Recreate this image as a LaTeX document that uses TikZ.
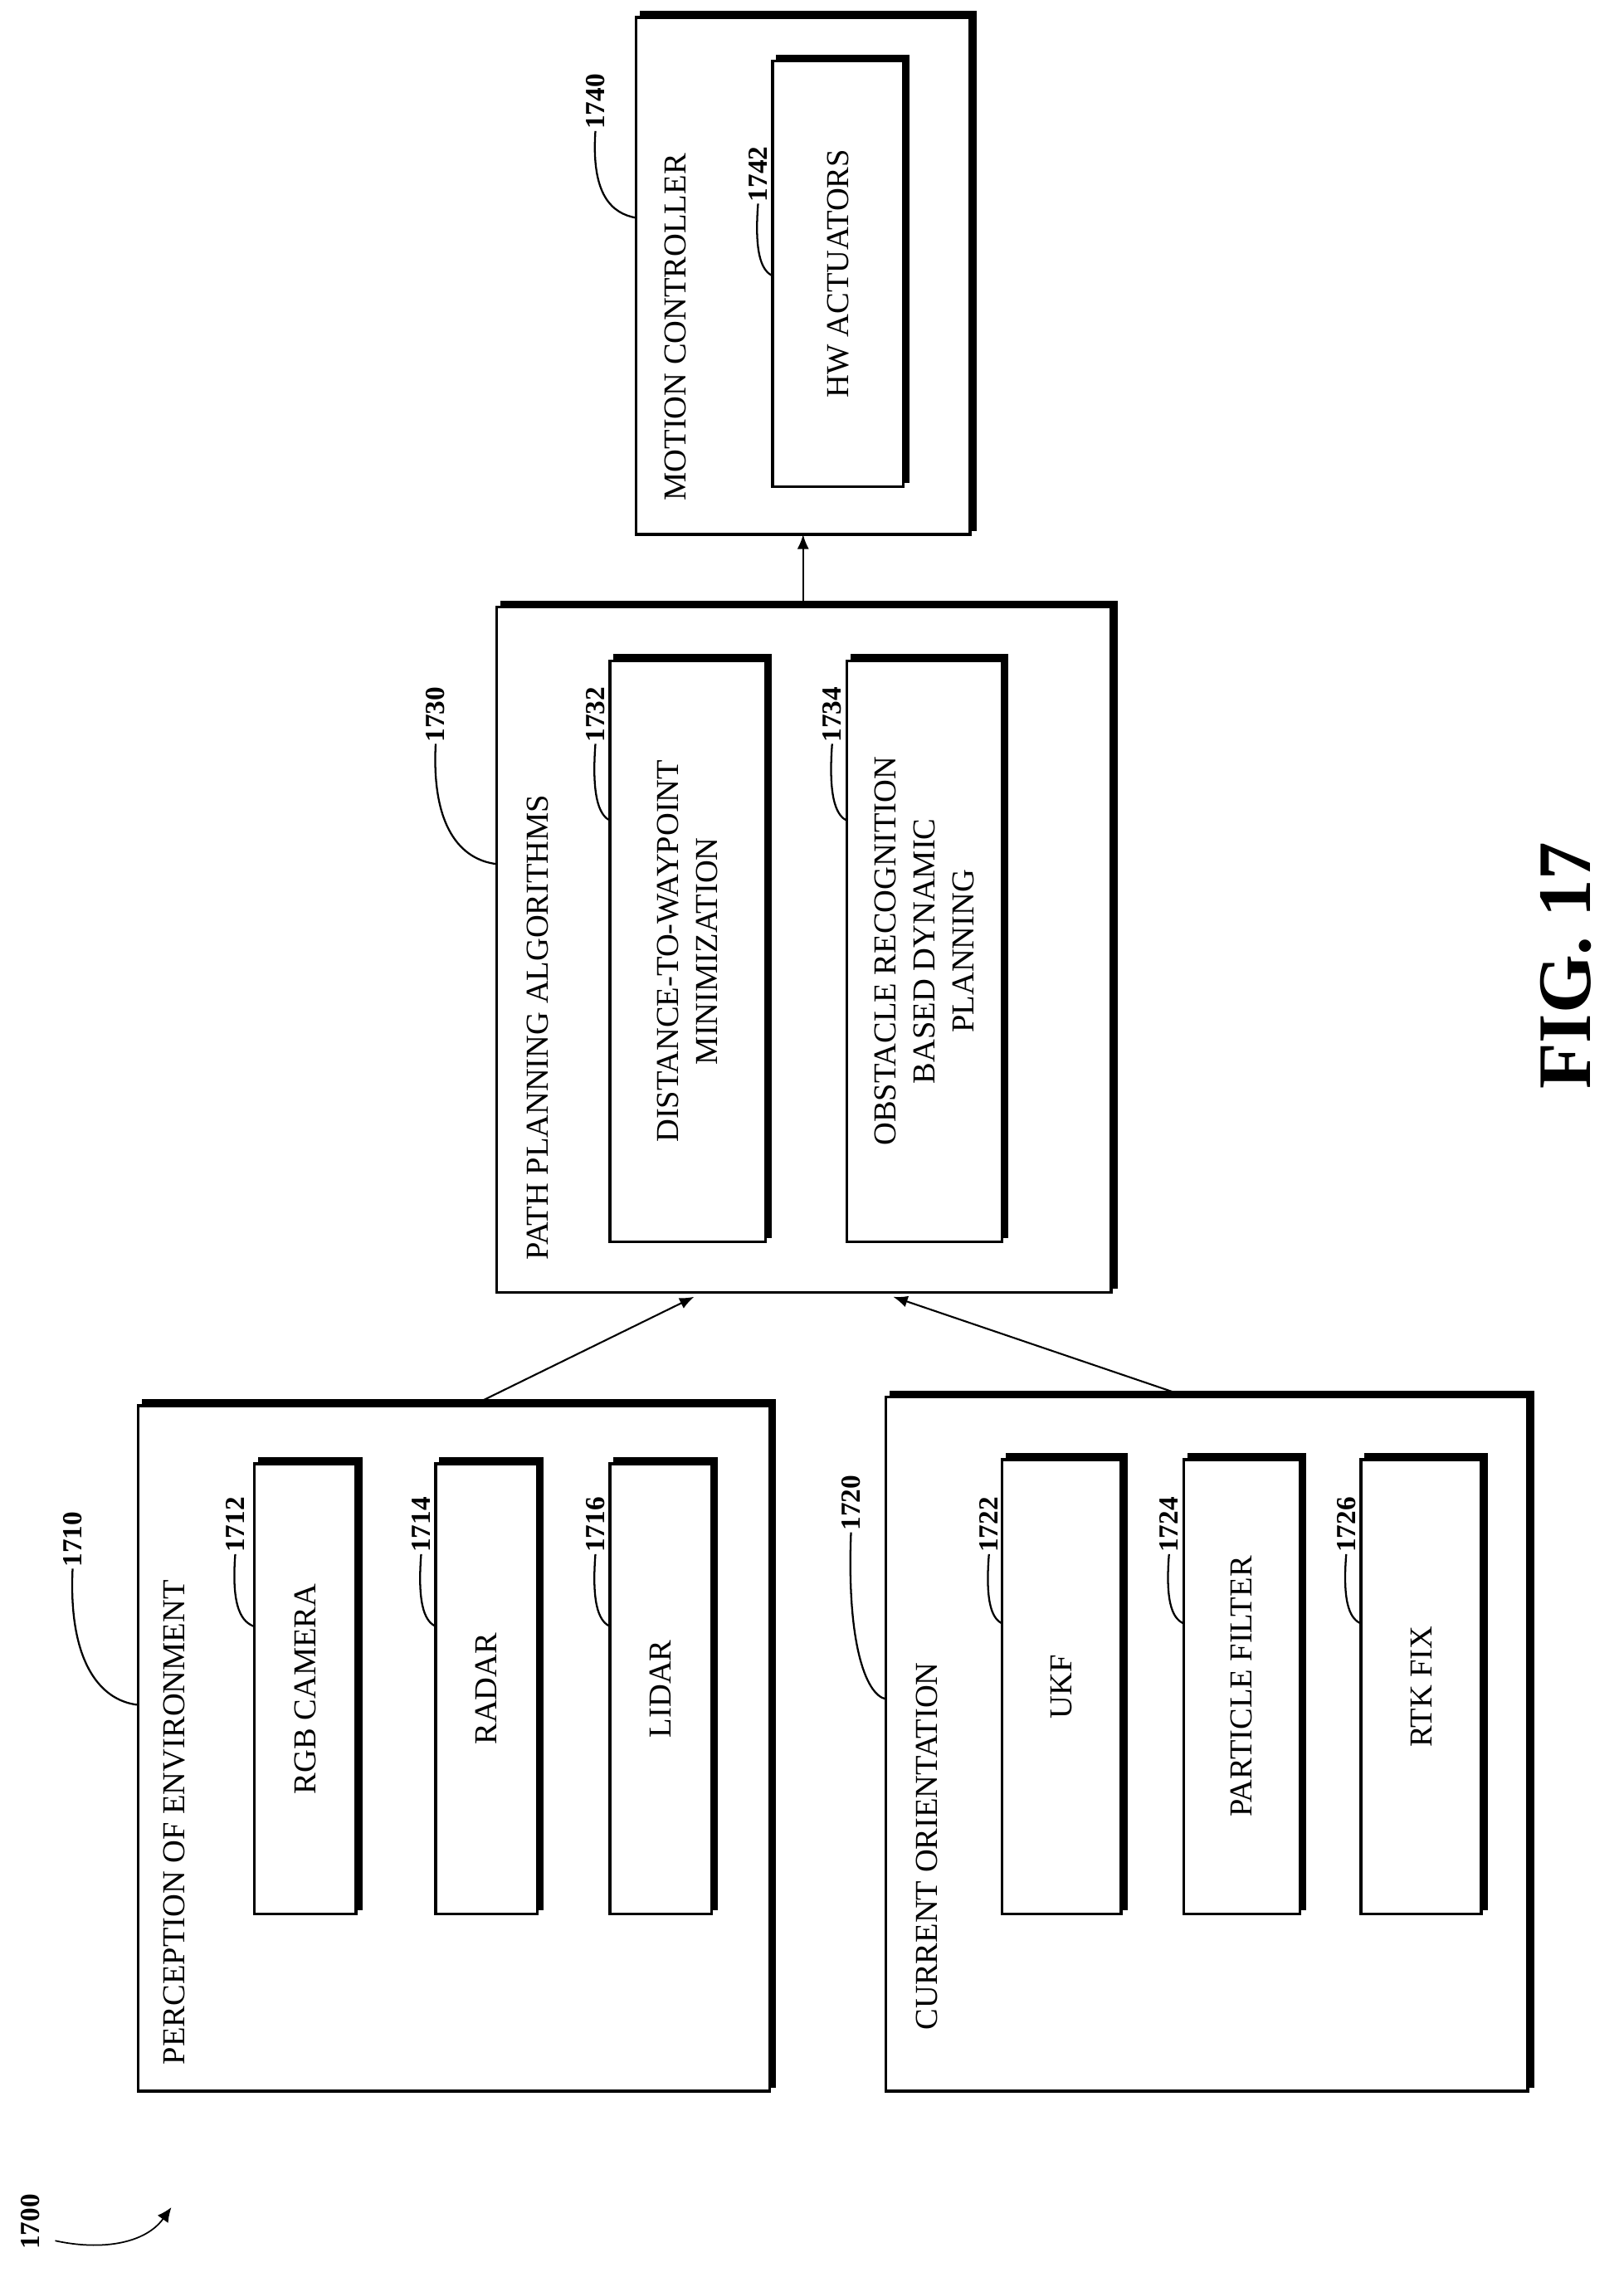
\documentclass[tikz,border=0pt]{standalone}
\usepackage{fontspec}
\setmainfont{Liberation Serif}
\usetikzlibrary{shadows,arrows.meta,calc}
\newcommand{\lbl}[5]{%
 \node[num] (n#1) at (#2,#3) {#1};
 \coordinate (e#1) at (#4,#5);
 \draw[lead] (n#1.west) .. controls ($(n#1.west)+(-3,{(#5-#3)*0.55})$) and ($(e#1)+({(#2-#4)*0.6},-3)$) .. (e#1);}
\begin{document}
\begin{tikzpicture}[x=1pt,y=-1pt,
 box/.style={draw,line width=2pt,fill=white,inner sep=0pt,copy shadow={shadow xshift=3.5pt,shadow yshift=3.5pt,fill=black,draw=black,opacity=1}},
 ttl/.style={rotate=90,anchor=west,font=\fontsize{22}{26}\selectfont,inner sep=0pt},
 txt/.style={rotate=90,align=center,font=\fontsize{22}{27}\selectfont,inner sep=0pt},
 num/.style={rotate=90,font=\bfseries\fontsize{19}{22}\selectfont,inner sep=1pt},
 lead/.style={line width=1.3pt},
 arr/.style={line width=1.2pt,-{Latex[length=10pt,width=8pt]}}]
\useasboundingbox (0,0) rectangle (1118,1568);
% boxes
\node[box,minimum width=435pt,minimum height=472pt] (b1710) at (312.5,1204) {};
\node[box,minimum width=70pt,minimum height=310pt] (b1712) at (210,1163) {};
\node[box,minimum width=70pt,minimum height=310pt] (b1714) at (335,1163) {};
\node[box,minimum width=70pt,minimum height=310pt] (b1716) at (455,1163) {};
\node[box,minimum width=442pt,minimum height=478pt] (b1720) at (831,1201) {};
\node[box,minimum width=82pt,minimum height=313pt] (b1722) at (731,1161.5) {};
\node[box,minimum width=80pt,minimum height=313pt] (b1724) at (855,1161.5) {};
\node[box,minimum width=83pt,minimum height=313pt] (b1726) at (978.5,1161.5) {};
\node[box,minimum width=423pt,minimum height=472pt] (b1730) at (553.5,654) {};
\node[box,minimum width=107pt,minimum height=400pt] (b1732) at (473.5,655) {};
\node[box,minimum width=107pt,minimum height=400pt] (b1734) at (636.5,655) {};
\node[box,minimum width=230pt,minimum height=356pt] (b1740) at (553,190) {};
\node[box,minimum width=90pt,minimum height=293pt] (b1742) at (577,188.5) {};
% titles
\node[ttl] (t1710) at (120,1422) {PERCEPTION OF ENVIRONMENT};
\node[ttl] (t1720) at (638,1398) {CURRENT ORIENTATION};
\node[ttl] (t1730) at (370,868) {PATH PLANNING ALGORITHMS};
\node[ttl] (t1740) at (465,345) {MOTION CONTROLLER};
% inner texts
\node[txt] at (b1712) {RGB CAMERA};
\node[txt] at (b1714) {RADAR};
\node[txt] at (b1716) {LIDAR};
\node[txt] at (b1722) {UKF};
\node[txt] at (b1724) {PARTICLE FILTER};
\node[txt] at (b1726) {RTK FIX};
\node[txt] at (b1732) {DISTANCE-TO-WAYPOINT\\MINIMIZATION};
\node[txt] at (b1734) {OBSTACLE RECOGNITION\\BASED DYNAMIC\\PLANNING};
\node[txt] at (b1742) {HW ACTUATORS};
% arrows
\coordinate (a1) at (325,968); \coordinate (a1e) at (478,893);
\coordinate (a2) at (818,962); \coordinate (a2e) at (615,893);
\coordinate (a3) at (553,418); \coordinate (a3e) at (553,368);
\draw[arr] (a1) -- (a1e);
\draw[arr] (a2) -- (a2e);
\draw[arr] (a3) -- (a3e);
% reference numbers
\lbl{1710}{50}{1060}{95}{1174}
\lbl{1712}{162}{1050}{175}{1120}
\lbl{1714}{290}{1050}{300}{1120}
\lbl{1716}{410}{1050}{420}{1120}
\lbl{1720}{586}{1035}{610}{1170}
\lbl{1722}{681}{1050}{690}{1118}
\lbl{1724}{805}{1050}{815}{1118}
\lbl{1726}{927}{1050}{937}{1118}
\lbl{1730}{300}{492}{342}{595}
\lbl{1732}{410}{492}{420}{565}
\lbl{1734}{573}{492}{583}{565}
\lbl{1740}{410}{70}{438}{150}
\lbl{1742}{522}{120}{532}{190}
% 1700
\node[num] (n1700) at (21,1530) {1700};
\coordinate (t1700) at (118,1520);
\draw[line width=1pt,-{Latex[length=10pt,width=9pt]}] (38,1543) .. controls (70,1550) and (100,1545) .. (t1700);
% figure label
\node[rotate=90,font=\bfseries\fontsize{52}{60}\selectfont,inner sep=0pt] (fig) at (1078,665) {FIG. 17};
\end{tikzpicture}
\end{document}
